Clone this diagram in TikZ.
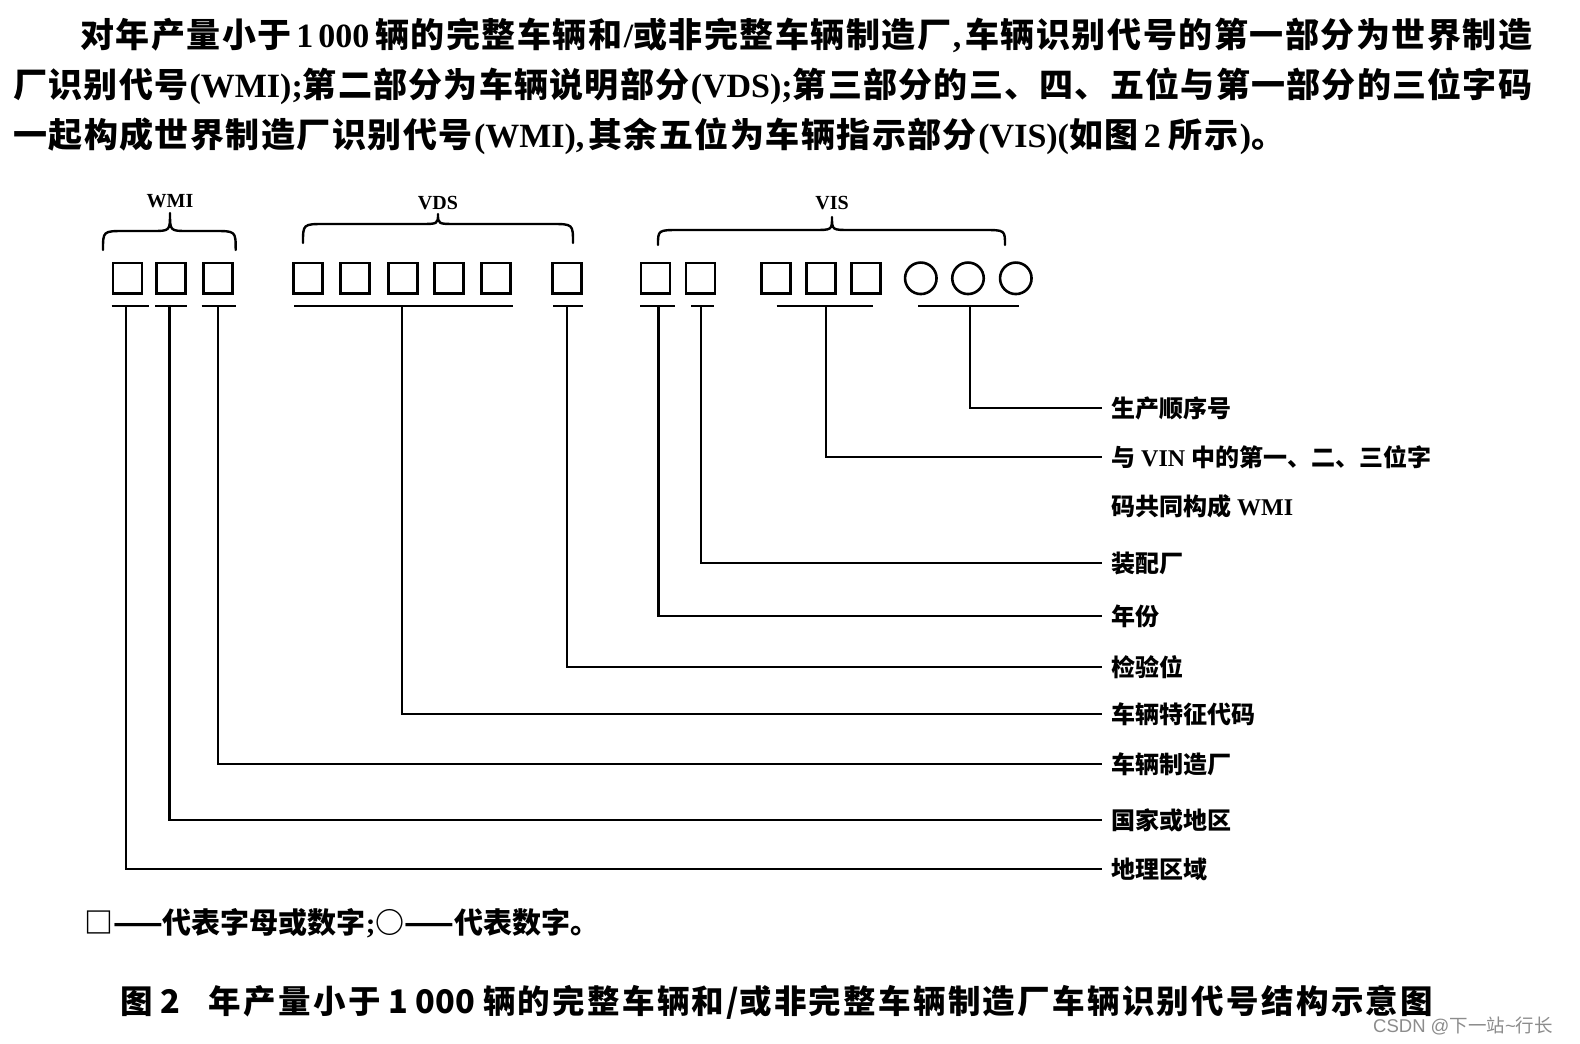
\documentclass[tikz,border=0pt]{standalone}
\usepackage{fontspec}
\setmainfont{Liberation Serif}
\setsansfont{Liberation Sans}
\newfontfamily\cjk{Noto Sans CJK SC}
\newcommand\zh[1]{{\cjk #1}}
\makeatletter
\def\zs#1{{\cjk\zs@loop#1\zs@end}}
\def\zs@end{\zs@end@}
\def\zs@loop#1{\ifx#1\zs@end\else#1\hskip0pt plus 1fil\relax\expandafter\zs@loop\fi}
\makeatother
\definecolor{wmgray}{gray}{0.55}
\newcommand\vinbrace[6]{%
  \draw[brc] (#1,#4) .. controls (#1,#5) .. (#1+22,#5) -- (#3-18,#5)
    .. controls (#3,#5) .. (#3,#6) .. controls (#3,#5) .. (#3+18,#5)
    -- (#2-22,#5) .. controls (#2,#5) .. (#2,#4);}
\tikzset{
  vbox/.style={draw, line width=2.8pt, minimum width=29pt, minimum height=30.5pt, inner sep=0pt},
  vcirc/.style={draw, circle, line width=2.6pt, minimum size=31.5pt, inner sep=0pt},
  ln/.style={line width=2.4pt},
  brc/.style={line width=2.4pt, line cap=round, line join=round},
  grp/.style={anchor=base, inner sep=0pt, font=\bfseries\fontsize{20}{24}\selectfont},
  lab/.style={anchor=west, inner xsep=9pt, inner ysep=0pt, font=\bfseries\fontsize{24}{28}\selectfont},
  para/.style={anchor=base west, inner sep=0pt, font=\bfseries\fontsize{34}{40}\selectfont},
}
\begin{document}
\begin{tikzpicture}[x=1pt,y=-1pt]
\fill[white] (0,0) rectangle (1580,1044);
\useasboundingbox (0,0) rectangle (1580,1044);

% paragraph
\node[para] (p1) at (80,47) {\hbox to 1452pt{\zs{对年产量小于}\hspace{3pt}1\hspace{5pt}000\hspace{6pt}\zs{辆的完整车辆和}/\zs{或非完整车辆制造厂},\hspace{4pt}\zs{车辆识别代号的第一部分为世界制造}\unskip}};
\node[para] (p2) at (13,97) {\hbox to 1519pt{\zs{厂识别代号}(WMI);\zs{第二部分为车辆说明部分}(VDS);\zs{第三部分的三、四、五位与第一部分的三位字码}\unskip}};
\node[para] (p3) at (13,147) {\hbox to 1272pt{\zs{一起构成世界制造厂识别代号}(WMI),\hspace{4pt}\zs{其余五位为车辆指示部分}(VIS)(\zs{如图}\hspace{4pt}2\hspace{8pt}\zs{所示})\zs{。}\unskip}};

% group labels and braces
\node[grp] (gwmi) at (170,207) {WMI};
\node[grp] (gvds) at (438,209) {VDS};
\node[grp] (gvis) at (832,209) {VIS};
\vinbrace{103}{235.7}{170}{250}{231}{213}
\vinbrace{303}{573}{438}{243}{224}{214}
\vinbrace{658}{1005}{832}{245}{230}{217}

% boxes
\node[vbox] (w1) at (127.5,278.3) {};
\node[vbox] (w2) at (170.7,278.3) {};
\node[vbox] (w3) at (218.3,278.3) {};
\node[vbox] (d1) at (308.3,278.3) {};
\node[vbox] (d2) at (355.3,278.3) {};
\node[vbox] (d3) at (402.7,278.3) {};
\node[vbox] (d4) at (449.2,278.3) {};
\node[vbox] (d5) at (496.3,278.3) {};
\node[vbox] (ck) at (566.7,278.3) {};
\node[vbox] (yr) at (655.5,278.3) {};
\node[vbox] (pl) at (700.5,278.3) {};
\node[vbox] (m1) at (775.8,278.3) {};
\node[vbox] (m2) at (820.8,278.3) {};
\node[vbox] (m3) at (865.8,278.3) {};
\node[vcirc] (c1) at (920.8,278.3) {};
\node[vcirc] (c2) at (968,278.3) {};
\node[vcirc] (c3) at (1015.8,278.3) {};

% underlines
\draw[ln] (111.7,306) -- (149.3,306);
\draw[ln] (155,306) -- (187,306);
\draw[ln] (201.7,306) -- (235.7,306);
\draw[ln] (294,306) -- (513.3,306);
\draw[ln] (553,306) -- (583,306);
\draw[ln] (640,306) -- (675,306);
\draw[ln] (691,306) -- (714,306);
\draw[ln] (776.7,306) -- (873.3,306);
\draw[ln] (918.3,306) -- (1019.3,306);

\coordinate (s1) at (125.7,306);
\coordinate (s2) at (169.5,306);
\coordinate (s3) at (218,306);
\coordinate (s4) at (401.7,306);
\coordinate (s5) at (566.7,306);
\coordinate (s6) at (658.3,306);
\coordinate (s7) at (700.7,306);
\coordinate (s8) at (826,306);
\coordinate (s9) at (970,306);

% labels
\node[lab] (l1) at (1102,408) {\zh{生产顺序号}};
\node[lab] (l2) at (1102,457) {\zh{与} VIN \zh{中的第一、二、三位字}};
\node[lab] (l2b) at (1102,506) {\zh{码共同构成} WMI};
\node[lab] (l3) at (1102,563) {\zh{装配厂}};
\node[lab] (l4) at (1102,616) {\zh{年份}};
\node[lab] (l5) at (1102,667) {\zh{检验位}};
\node[lab] (l6) at (1102,714) {\zh{车辆特征代码}};
\node[lab] (l7) at (1102,764) {\zh{车辆制造厂}};
\node[lab] (l8) at (1102,820) {\zh{国家或地区}};
\node[lab] (l9) at (1102,869) {\zh{地理区域}};

% connectors
\draw[ln] (s9) |- (l1.west);
\draw[ln] (s8) |- (l2.west);
\draw[ln] (s7) |- (l3.west);
\draw[ln] (s6) |- (l4.west);
\draw[ln] (s5) |- (l5.west);
\draw[ln] (s4) |- (l6.west);
\draw[ln] (s3) |- (l7.west);
\draw[ln] (s2) |- (l8.west);
\draw[ln] (s1) |- (l9.west);

% legend
\node[anchor=base west, inner sep=0pt, font=\bfseries\fontsize{29}{34}\selectfont] (leg) at (84,933) {\zh{□——代表字母或数字};\zh{○——代表数字。}};

% caption
\node[anchor=base west, inner sep=0pt, font=\bfseries\fontsize{32.5}{38}\selectfont] (cap) at (120,1013) {\hbox to 1313pt{\cjk\zs{图}\hspace{6pt}2\hspace{28pt}\zs{年产量小于}\hspace{6pt}1\hspace{7pt}000\hspace{8pt}\zs{辆的完整车辆和}/\zs{或非完整车辆制造厂车辆识别代号结构示意图}\unskip}};

% watermark
\node[anchor=base west, inner sep=0pt, text=wmgray, font=\sffamily\fontsize{18.5}{21}\selectfont] (wm) at (1373,1032) {CSDN @\zh{下一站}\textasciitilde\zh{行长}};
\end{tikzpicture}
\end{document}
